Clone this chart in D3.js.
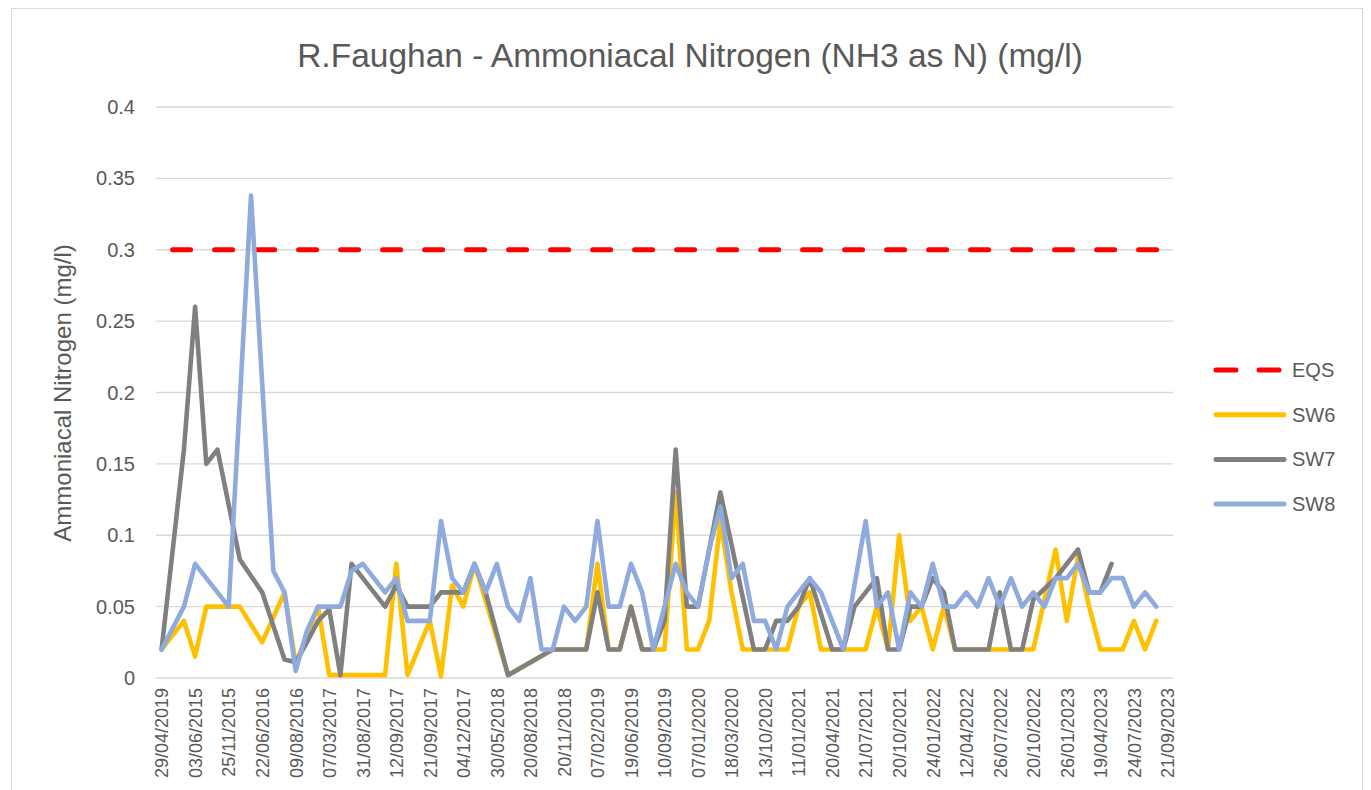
<!DOCTYPE html>
<html>
<head>
<meta charset="utf-8">
<script src="https://cdn.jsdelivr.net/npm/d3@7"></script>
<style>
  body { margin: 0; background: #fff; }
  text { font-family: "Liberation Sans", Arial, sans-serif; fill: #595959; }
</style>
</head>
<body>
<svg id="chart" width="1371" height="790"></svg>
<script>
// tick labels (one every 3rd sampling date)
var tickLabels = ["29/04/2019", "03/06/2015", "25/11/2015", "22/06/2016", "09/08/2016", "07/03/2017",
  "31/08/2017", "12/09/2017", "21/09/2017", "04/12/2017", "30/05/2018", "20/08/2018", "20/11/2018",
  "07/02/2019", "19/06/2019", "10/09/2019", "07/01/2020", "18/03/2020", "13/10/2020", "11/01/2021",
  "20/04/2021", "21/07/2021", "20/10/2021", "24/01/2022", "12/04/2022", "26/07/2022", "20/10/2022",
  "26/01/2023", "19/04/2023", "24/07/2023", "21/09/2023"];

var nDates = 91;
var eqsValue = 0.3;

// null = no sample for that site on that date
var sw6 = [
  0.02, null, 0.04, 0.015, 0.05, 0.05, 0.05, 0.05, null, 0.025,
  null, 0.06, 0.01, 0.03, 0.05, 0.002, 0.002, 0.002, 0.002, 0.002,
  0.002, 0.08, 0.002, null, 0.04, 0.001, 0.065, 0.05, 0.08, null,
  null, 0.002, null, null, null, 0.02, 0.02, 0.02, 0.02, 0.08,
  0.02, 0.02, 0.05, 0.02, 0.02, 0.02, 0.13, 0.02, 0.02, 0.04,
  0.11, 0.06, 0.02, 0.02, 0.02, 0.02, 0.02, 0.05, 0.06, 0.02,
  0.02, 0.02, 0.02, 0.02, 0.05, 0.02, 0.1, 0.04, 0.05, 0.02,
  0.05, 0.02, 0.02, 0.02, 0.02, 0.02, 0.02, 0.02, 0.02, null,
  0.09, 0.04, 0.085, 0.05, 0.02, 0.02, 0.02, 0.04, 0.02, 0.04,
  null];

var sw7 = [
  0.02, null, 0.16, 0.26, 0.15, 0.16, null, 0.083, null, 0.06,
  null, 0.013, 0.011, 0.025, 0.04, 0.048, 0.002, 0.08, null, null,
  0.05, 0.065, 0.05, 0.05, 0.05, 0.06, 0.06, 0.06, 0.08, 0.06,
  null, 0.002, null, null, null, 0.02, 0.02, 0.02, 0.02, 0.06,
  0.02, 0.02, 0.05, 0.02, 0.02, 0.04, 0.16, 0.05, 0.05, null,
  0.13, null, null, 0.02, 0.02, 0.04, 0.04, 0.05, 0.07, null,
  0.02, 0.02, 0.05, null, 0.07, 0.02, 0.02, 0.05, 0.05, 0.07,
  0.06, 0.02, 0.02, 0.02, 0.02, 0.06, 0.02, 0.02, 0.055, null,
  0.07, null, 0.09, 0.06, 0.06, 0.08, null, null, null, null,
  null];

var sw8 = [
  0.02, null, 0.05, 0.08, null, null, 0.05, null, 0.338, null,
  0.075, 0.06, 0.005, 0.033, 0.05, 0.05, 0.05, 0.075, 0.08, null,
  0.06, 0.07, 0.04, 0.04, 0.04, 0.11, 0.07, 0.06, 0.08, 0.06,
  0.08, 0.05, 0.04, 0.07, 0.02, 0.02, 0.05, 0.04, 0.05, 0.11,
  0.05, 0.05, 0.08, 0.06, 0.02, null, 0.08, 0.06, 0.05, 0.09,
  0.12, 0.07, 0.08, 0.04, 0.04, 0.02, 0.05, 0.06, 0.07, 0.06,
  null, 0.02, null, 0.11, 0.05, 0.06, 0.02, 0.06, 0.05, 0.08,
  0.05, 0.05, 0.06, 0.05, 0.07, 0.05, 0.07, 0.05, 0.06, 0.05,
  0.07, 0.07, 0.08, 0.06, 0.06, 0.07, 0.07, 0.05, 0.06, 0.05,
  null];

var yTicks = [0, 0.05, 0.1, 0.15, 0.2, 0.25, 0.3, 0.35, 0.4];

var series = [
  { name: "SW6", values: sw6, color: "#FFC000" },
  { name: "SW7", values: sw7, color: "#808080" },
  { name: "SW8", values: sw8, color: "#8FAADC" }
];

var svg = d3.select("#chart");

// chart frame
svg.append("rect")
  .attr("x", 11.5).attr("y", 8.5)
  .attr("width", 1351).attr("height", 800)
  .attr("fill", "none")
  .attr("stroke", "#D9D9D9");

var plotLeft = 156, plotRight = 1173, plotTop = 107, plotBottom = 678;

var x = d3.scalePoint()
  .domain(d3.range(nDates))
  .range([plotLeft, plotRight])
  .padding(0.5);

var y = d3.scaleLinear()
  .domain([0, 0.4])
  .range([plotBottom, plotTop]);

// gridlines
svg.append("g")
  .selectAll("line")
  .data(yTicks)
  .enter()
  .append("line")
  .attr("x1", plotLeft).attr("x2", plotRight)
  .attr("y1", d => y(d)).attr("y2", d => y(d))
  .attr("stroke", "#D9D9D9")
  .attr("stroke-width", 1.3);

// y axis labels
svg.append("g")
  .selectAll("text")
  .data(yTicks)
  .enter()
  .append("text")
  .attr("x", 135)
  .attr("y", d => y(d))
  .attr("dy", "0.35em")
  .attr("text-anchor", "end")
  .style("font-size", "20px")
  .text(d => String(+d.toFixed(2)));

// x axis labels
var xAxis = d3.axisBottom(x)
  .tickValues(d3.range(0, nDates, 3))
  .tickSize(0)
  .tickFormat(i => tickLabels[i / 3]);

var gx = svg.append("g")
  .attr("transform", "translate(0," + plotBottom + ")")
  .call(xAxis);
gx.select(".domain").remove();
gx.selectAll("text")
  .attr("transform", "rotate(-90)")
  .attr("x", -10)
  .attr("y", 0)
  .attr("dy", "0.35em")
  .attr("text-anchor", "end")
  .style("font-size", "18px")
  .style("font-family", "Liberation Sans, Arial, sans-serif")
  .attr("fill", "#595959");

// EQS line
svg.append("line")
  .attr("x1", x(0)).attr("x2", x(nDates - 1))
  .attr("y1", y(eqsValue)).attr("y2", y(eqsValue))
  .attr("stroke", "#FF0000")
  .attr("stroke-width", 5)
  .attr("stroke-linecap", "round")
  .attr("stroke-dasharray", "18,24")
  .attr("stroke-dashoffset", 31);

var line = d3.line()
  .x(d => x(d.i))
  .y(d => y(d.v));

series.forEach(function(s) {
  var pts = s.values.map((v, i) => ({ i: i, v: v })).filter(d => d.v != null);
  svg.append("path")
    .datum(pts)
    .attr("d", line)
    .attr("fill", "none")
    .attr("stroke", s.color)
    .attr("stroke-width", 4.6)
    .attr("stroke-linejoin", "round")
    .attr("stroke-linecap", "round");
});

// title
svg.append("text")
  .attr("x", 690)
  .attr("y", 67)
  .attr("text-anchor", "middle")
  .style("font-size", "33.5px")
  .text("R.Faughan - Ammoniacal Nitrogen (NH3 as N) (mg/l)");

// y axis title
svg.append("text")
  .attr("transform", "translate(71,393) rotate(-90)")
  .attr("text-anchor", "middle")
  .style("font-size", "24px")
  .text("Ammoniacal Nitrogen (mg/l)");

// legend
var legendItems = [{ name: "EQS", color: "#FF0000", dashed: true }].concat(series);
var legend = svg.append("g");
legendItems.forEach(function(d, k) {
  var ly = 370 + k * 44.7;
  var ln = legend.append("line")
    .attr("x1", 1216).attr("x2", 1284)
    .attr("y1", ly).attr("y2", ly)
    .attr("stroke", d.color)
    .attr("stroke-width", 5)
    .attr("stroke-linecap", "round");
  if (d.dashed) ln.attr("x2", 1279).attr("stroke-dasharray", "20,23");
  legend.append("text")
    .attr("x", 1292)
    .attr("y", ly)
    .attr("dy", "0.35em")
    .style("font-size", "20px")
    .text(d.name);
});
</script>
</body>
</html>
